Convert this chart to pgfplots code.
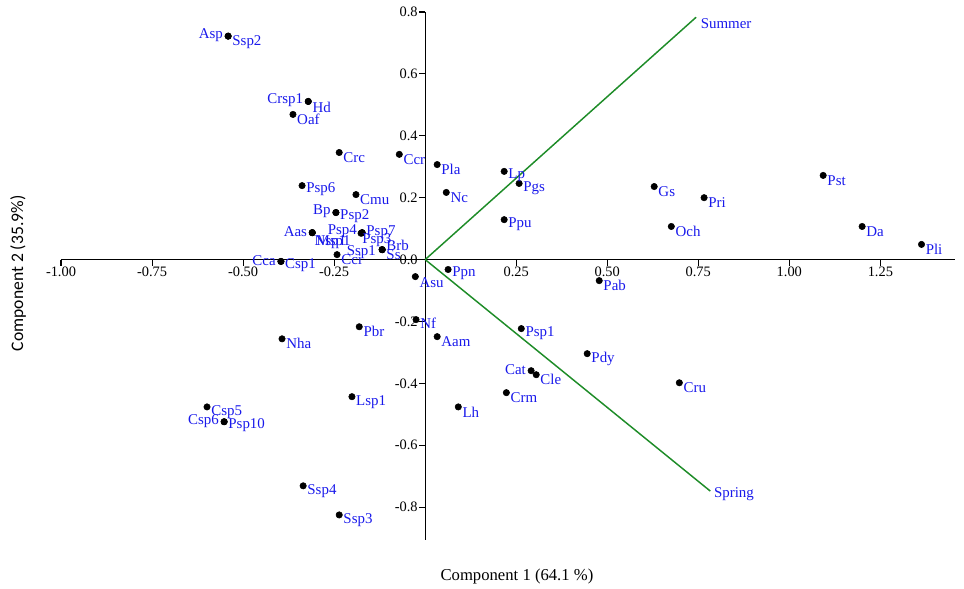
\documentclass[border=0pt]{standalone}
\usepackage{pgfplots}
\pgfplotsset{compat=1.18}
\usepackage{fontspec}
\setmainfont{Liberation Serif}
\newfontfamily\carlito{Carlito}
\definecolor{lblblue}{RGB}{25,25,235}
\definecolor{vecgreen}{RGB}{30,140,40}
\newcommand\lblfont{\fontsize{11.2}{13}\selectfont}
\newcommand\tickfont{\fontsize{10.8}{12}\selectfont}
\pgfplotsset{
  lbl/.style n args={3}{only marks, mark=*, mark size=2.4pt, black,
    point meta=explicit symbolic, nodes near coords,
    every node near coord/.style={anchor=#1, xshift=#2, yshift=#3, inner sep=0pt, text=lblblue, font=\lblfont}},
}

\begin{document}
\begin{tikzpicture}
\begin{axis}[name=ax, scale only axis, width=670.5pt, height=396pt,
  xmin=-1, xmax=1.455, ymin=-0.906, ymax=0.8,
  axis lines=middle, axis line style={-, black, line width=0.9pt},
  clip=false,
  hide obscured x ticks=false, hide obscured y ticks=false,
  xtick={-1,-0.75,-0.5,-0.25,0.25,0.5,0.75,1,1.25},
  xticklabels={-1.00,-0.75,-0.50,-0.25,0.25,0.50,0.75,1.00,1.25},
  ytick={-0.8,-0.6,-0.4,-0.2,0,0.2,0.4,0.6,0.8},
  yticklabels={-0.8,-0.6,-0.4,-0.2,0.0,0.2,0.4,0.6,0.8},
  tick align=outside, major tick length=4.5pt,
  tick style={black, line width=0.8pt},
  xticklabel style={font=\tickfont, text=black, inner sep=1pt},
  yticklabel style={font=\tickfont, text=black, inner sep=1pt},
]
\addplot[vecgreen, line width=1.1pt] coordinates {(0,0) (0.744,0.783)}
  node[pos=1, anchor=west, xshift=3pt, yshift=-4.5pt, inner sep=0pt, text=lblblue, font=\lblfont] {Summer};
\addplot[vecgreen, line width=1.1pt] coordinates {(0,0) (0.783,-0.748)}
  node[pos=1, anchor=west, xshift=2.25pt, yshift=-2.25pt, inner sep=0pt, text=lblblue, font=\lblfont] {Spring};
% labels to the right, standard offset
\addplot[lbl={west}{3pt}{-3.75pt}] table[meta=lab] {
x y lab
-0.363 0.469 Oaf
-0.236 0.346 Crc
-0.071 0.340 Ccr
0.033 0.307 Pla
0.258 0.246 Pgs
0.058 0.217 Nc
0.217 0.129 Ppu
0.478 -0.068 Pab
0.629 0.236 Gs
0.766 0.200 Pri
0.676 0.107 Och
1.093 0.272 Pst
1.200 0.107 Da
1.363 0.049 Pli
-0.190 0.210 Cmu
-0.242 0.016 Cci
-0.181 -0.217 Pbr
-0.393 -0.256 Nha
0.033 -0.249 Aam
-0.201 -0.443 Lsp1
0.091 -0.476 Lh
-0.599 -0.476 Csp5
-0.335 -0.731 Ssp4
-0.236 -0.825 Ssp3
0.264 -0.223 Psp1
0.445 -0.304 Pdy
0.305 -0.372 Cle
0.223 -0.430 Crm
0.698 -0.398 Cru
-0.118 0.032 Ss
};
% right, slightly higher
\addplot[lbl={west}{3pt}{-2.6pt}] table[meta=lab] {
x y lab
0.217 0.285 Lp
0.063 -0.032 Ppn
-0.338 0.239 Psp6
-0.245 0.152 Psp2
-0.396 -0.006 Csp1
-0.025 -0.194 Nf
-0.552 -0.524 Psp10
};
% right, lower
\addplot[lbl={west}{3pt}{-4.8pt}] table[meta=lab] {
x y lab
-0.541 0.722 Ssp2
-0.321 0.511 Hd
-0.027 -0.055 Asu
};
% labels to the left
\addplot[lbl={east}{-3.75pt}{0.75pt}] table[meta=lab] {
x y lab
-0.541 0.722 Asp
-0.321 0.511 Crsp1
-0.245 0.152 Bp
-0.310 0.087 Aas
-0.173 0.087 Psp4
-0.396 -0.006 Cca
-0.552 -0.524 Csp6
0.291 -0.359 Cat
};
% crowded cluster
\addplot[lbl={west}{3pt}{0.3pt}] table[meta=lab] {
x y lab
-0.173 0.087 Psp7
};
\addplot[lbl={west}{0.75pt}{-5.25pt}] table[meta=lab] {
x y lab
-0.176 0.085 Psp3
};
\addplot[lbl={west}{1.5pt}{-6.8pt}] table[meta=lab] {
x y lab
-0.310 0.087 Nsp1
};
\addplot[lbl={west}{3pt}{-6.8pt}] table[meta=lab] {
x y lab
-0.310 0.087 Msp1
};
\addplot[lbl={west}{3pt}{3pt}] table[meta=lab] {
x y lab
-0.118 0.032 Brb
};
\addplot[lbl={east}{-4.5pt}{-1.5pt}] table[meta=lab] {
x y lab
-0.118 0.032 Ssp1
};
\node[font=\fontsize{12.5}{14}\selectfont] at (rel axis cs:0.51,-0.070) {Component 1 (64.1 \%)};
\node[font=\carlito\fontsize{13.2}{15}\selectfont, rotate=90] at (rel axis cs:-0.048,0.505) {Component 2 (35.9\%)};
\end{axis}
\pgfresetboundingbox
\path[use as bounding box] ([xshift=-45.75pt,yshift=-36.75pt]ax.south west) rectangle ([xshift=6.75pt,yshift=9pt]ax.north east);
\end{tikzpicture}
\end{document}
